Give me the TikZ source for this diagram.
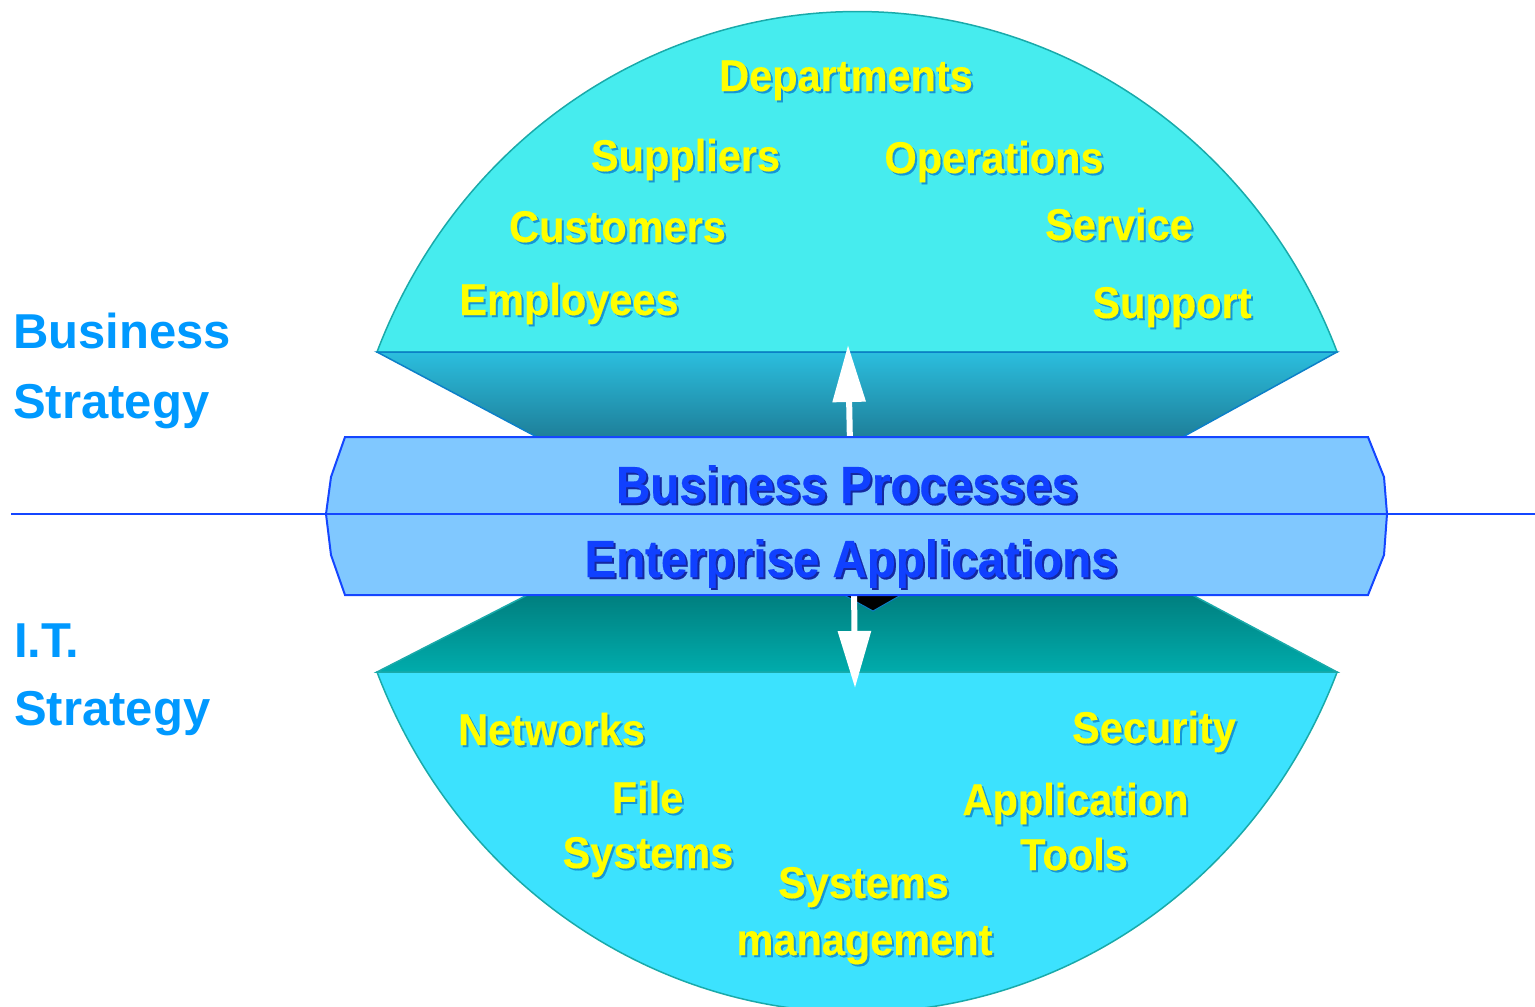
\documentclass[tikz,border=0pt]{standalone}
\usepackage{fontspec}
\setmainfont{Liberation Sans}
\newfontfamily\heavyfont[BoldFeatures={FakeBold=0.4}]{Liberation Sans}
\usepackage{xcolor}
\usetikzlibrary{arrows.meta}

\definecolor{domeTop}{RGB}{70,236,238}
\definecolor{domeBot}{RGB}{60,226,254}
\definecolor{domeEdge}{RGB}{25,170,170}
\definecolor{coneEdge}{RGB}{12,128,200}
\definecolor{bandFill}{RGB}{128,200,255}
\definecolor{bandEdge}{RGB}{20,70,255}
\definecolor{itemYellow}{RGB}{255,255,0}
\definecolor{itemShade}{RGB}{20,150,215}
\definecolor{bandText}{RGB}{16,64,255}
\definecolor{bandShade}{RGB}{20,40,160}
\definecolor{sideBlue}{RGB}{0,153,255}

\tikzset{
  item/.style={inner sep=0pt, anchor=base, text=itemYellow, yscale=1.07, transform shape,
    font=\heavyfont\fontsize{41.5}{48}\selectfont\bfseries},
  itemshade/.style={item, text=itemShade},
  layer/.style={inner sep=0pt, anchor=base, text=bandText, yscale=1.1, transform shape,
    font=\heavyfont\fontsize{47.5}{56}\selectfont\bfseries},
  layershade/.style={layer, text=bandShade},
  side/.style={inner sep=0pt, anchor=base west, text=sideBlue,
    font=\fontsize{49}{56}\selectfont\bfseries},
  whitearrow/.style={draw=white, line width=6pt,
    -{Triangle[width=32pt,length=57pt]}}
}

\begin{document}
\begin{tikzpicture}[x=1pt, y=1pt]
  \useasboundingbox (0,0) rectangle (1535,-1007);

  % business dome and IT dome
  \draw[fill=domeTop, draw=domeEdge, line width=1.5pt]
    (377,-352) arc[start angle=158.3, end angle=21.7, x radius=516.7, y radius=540] -- cycle;
  \draw[fill=domeBot, draw=domeEdge, line width=1.5pt]
    (377,-672) arc[start angle=-158.3, end angle=-21.7, x radius=516.7, y radius=540] -- cycle;

  % cones towards the band
  \path[top color={rgb,255:red,43;green,190;blue,222}, bottom color={rgb,255:red,29;green,122;blue,148},
        draw=coneEdge, line width=1.5pt]
    (377,-352) -- (1337,-352) -- (1170,-444) -- (550,-444) -- cycle;
  \path[top color={rgb,255:red,0;green,124;blue,124}, bottom color={rgb,255:red,0;green,172;blue,172},
        draw=domeEdge, line width=1.5pt]
    (537,-590) -- (1183,-590) -- (1337,-672) -- (377,-672) -- cycle;
  \draw[fill=black, draw=coneEdge, line width=1pt] (844,-595) -- (873,-611) -- (901,-595);

  % arrows
  \coordinate (upfoot) at (850,-445);
  \coordinate (uptip)  at (848,-345);
  \coordinate (dnfoot) at (854,-585);
  \coordinate (dntip)  at (855,-688);
  \draw[whitearrow] (upfoot) -- (uptip);
  \draw[whitearrow] (dnfoot) -- (dntip);

  % band
  \draw[fill=bandFill, draw=bandEdge, line width=2pt]
    (345,-437) -- (1368,-437) -- (1384,-477) -- (1387,-514) -- (1384,-555) -- (1368,-595)
    -- (345,-595) -- (331,-555) -- (326,-514) -- (331,-477) -- cycle;
  \coordinate (divL) at (11,-514);
  \coordinate (divR) at (1535,-514);
  \draw[bandEdge, line width=1.5pt] (divL) -- (divR);

  \node[layershade] (bp-s) at (849,-505) {Business Processes};
  \node[layer]      (bp)   at (847,-503) {Business Processes};
  \node[layershade] (ea-s) at (853,-579) {Enterprise Applications};
  \node[layer]      (ea)   at (851,-577) {Enterprise Applications};

  % labels in the domes
  \foreach \nm/\x/\y/\txt in {dept/846/91/Departments, supp/685.5/171/Suppliers,
      oper/994/173/Operations, cust/617.5/242/Customers, serv/1119/240/Service,
      empl/569/315/Employees, supt/1172/318/Support,
      netw/551.5/745/Networks, secu/1154/743/Security,
      file/647.5/813/File, fsys/648/868/Systems,
      appl/1075.5/815/Application, tools/1074/870/Tools,
      ssys/863.5/898/Systems, mgmt/864.5/955/management}{
    \node[itemshade] (\nm-s) at (\x+2,-\y-2) {\txt};
    \node[item]      (\nm)   at (\x,-\y)     {\txt};
  }

  % strategy labels
  \node[side] (bus)  at (13,-348) {Business};
  \node[side] (bstr) at (13,-418) {Strategy};
  \node[side] (it)   at (14,-657) {I.T.};
  \node[side] (istr) at (14,-725) {Strategy};
\end{tikzpicture}
\end{document}
